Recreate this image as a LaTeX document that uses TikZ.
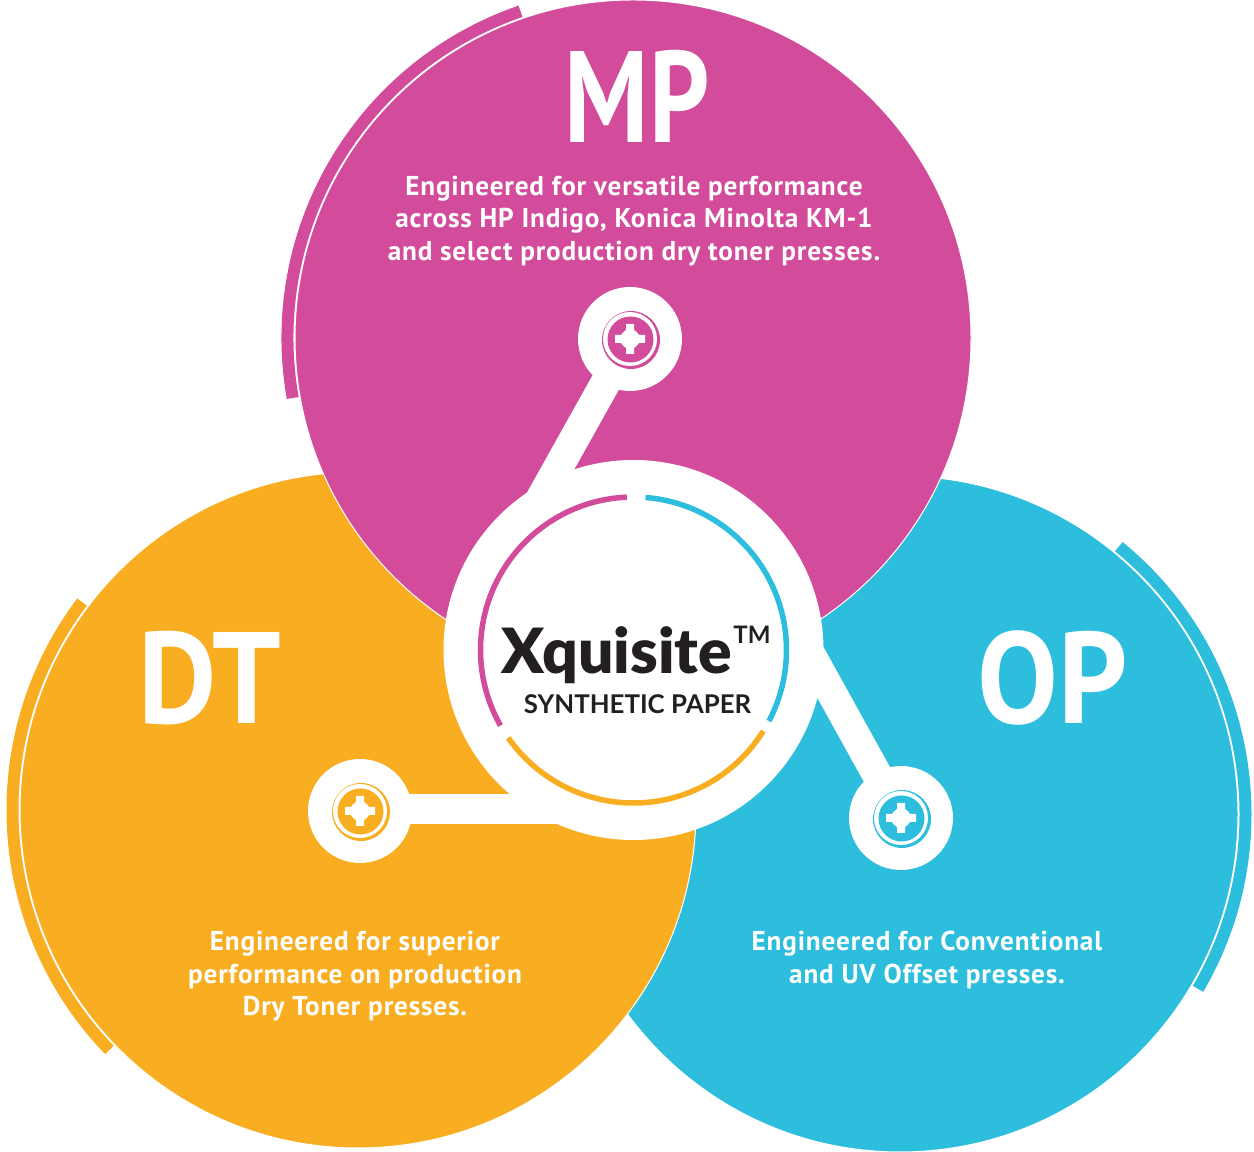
\documentclass[tikz,border=0pt]{standalone}
\usepackage{fontspec}
\setmainfont{Open Sans}
\newfontfamily\bodyfont[LetterSpace=3]{PT Sans}
\newfontfamily\headfont[FakeStretch=0.93]{PT Sans}
\newfontfamily\headnarrow[FakeStretch=0.81]{PT Sans}
\newfontfamily\latofont{Lato}
\newfontfamily\latoblack{Lato Black}
\definecolor{mpcol}{HTML}{D34C9B}
\definecolor{dtcol}{HTML}{F8AE20}
\definecolor{opcol}{HTML}{2CBEDC}
\definecolor{inkcol}{HTML}{231F20}
\tikzset{
  disc/.style={draw=white,line width=0.02cm},
  rim/.style={line width=0.24cm},
  hubarc/.style={line width=0.11cm},
  bar/.style={white,line width=0.6cm},
  dot/.style={circle,fill=white,minimum size=2.08cm,inner sep=0pt},
  head/.style={white,anchor=base,font=\headfont\bfseries\fontsize{74}{74}\selectfont},
  blurb/.style={white,align=center,font=\bodyfont\bfseries\fontsize{15.5}{18.5}\selectfont},
}
\begin{document}
\begin{tikzpicture}[x=0.02cm,y=0.02cm]
\useasboundingbox (0,0) rectangle (1254,1152);
\coordinate (mp) at (633,814);
\coordinate (dt) at (358,342);
\coordinate (op) at (900,338);
\coordinate (hub) at (633.5,502);

% Les disques
\draw[disc,fill=opcol] (op) circle (338);
\draw[disc,fill=dtcol] (dt) circle (338);
\draw[disc,fill=mpcol] (mp) circle (338);

% Les arcs exterieurs
\draw[rim,mpcol] ([shift={(109:345.5)}]mp) arc[start angle=109,end angle=190,radius=345.5];
\draw[rim,dtcol] ([shift={(143:345.5)}]dt) arc[start angle=143,end angle=224,radius=345.5];
\draw[rim,opcol] ([shift={(50.7:345.5)}]op) arc[start angle=50.7,end angle=-30.4,radius=345.5];

% Les pastilles et les liaisons
\node[dot] (mpdot) at (630,813) {};
\node[dot] (dtdot) at (360,341) {};
\node[dot] (opdot) at (901,334) {};
\coordinate (mpend) at (540,652);
\coordinate (dtend) at (560,343);
\coordinate (opend) at (808,502);
\draw[bar] (mpdot.center) -- (mpend);
\draw[bar] (dtdot.center |- dtend) -- (dtend);
\draw[bar] (opdot.center) -- (opend);

% Le centre
\fill[white] (hub) circle (190);
\draw[hubarc,mpcol] ([shift={(92.5:153)}]hub) arc[start angle=92.5,end angle=209.6,radius=153];
\draw[hubarc,opcol] ([shift={(85.5:153)}]hub) arc[start angle=85.5,end angle=-27.7,radius=153];
\draw[hubarc,dtcol] ([shift={(215:153)}]hub) arc[start angle=215,end angle=328,radius=153];

% Les vis
\foreach \dotname/\dotcol in {mpdot/mpcol,dtdot/dtcol,opdot/opcol}{
  \fill[\dotcol] ([shift={(1,-1)}]\dotname) circle (29);
  \fill[white] (\dotname) circle (27);
  \fill[\dotcol] ([shift={(0.5,-0.5)}]\dotname) circle (23);
  \fill[white,shift={(\dotname.center)}] (4,15) -- (4,9) -- (6.8,6.8) -- (9,4) -- (15,4)
    -- (15,-4) -- (9,-4) -- (6.8,-6.8) -- (4,-9) -- (4,-15)
    -- (-4,-15) -- (-4,-9) -- (-6.8,-6.8) -- (-9,-4) -- (-15,-4)
    -- (-15,4) -- (-9,4) -- (-6.8,6.8) -- (-4,9) -- (-4,15) -- cycle;
}

% Les textes
\node[head,font=\headnarrow\bfseries\fontsize{74}{74}\selectfont] (mphead) at (637,1009) {MP};
\node[head] (dthead) at (210,428) {DT};
\node[head] (ophead) at (1053,428) {OP};
\node[blurb] (mptext) at (634,931) {Engineered for versatile performance\\across HP Indigo, Konica Minolta KM-1\\and select production dry toner presses.};
\node[blurb] (dttext) at (355,175.5) {Engineered for superior\\performance on production\\Dry Toner presses.};
\node[blurb] (optext) at (927,192) {Engineered for Conventional\\and UV Offset presses.};
\node[inkcol,anchor=base west,inner sep=0pt,font=\latoblack\fontsize{35.5}{36}\selectfont] (brand) at (501,478) {Xquisite};
\node[inkcol,anchor=base west,inner sep=0pt,font=\latofont\bfseries\fontsize{13.7}{14}\selectfont] (tm) at (733,508) {TM};
\node[inkcol,anchor=base,inner sep=0pt,font=\latofont\bfseries\fontsize{14.7}{16}\selectfont] (kind) at (637.5,438) {SYNTHETIC PAPER};
\end{tikzpicture}
\end{document}
